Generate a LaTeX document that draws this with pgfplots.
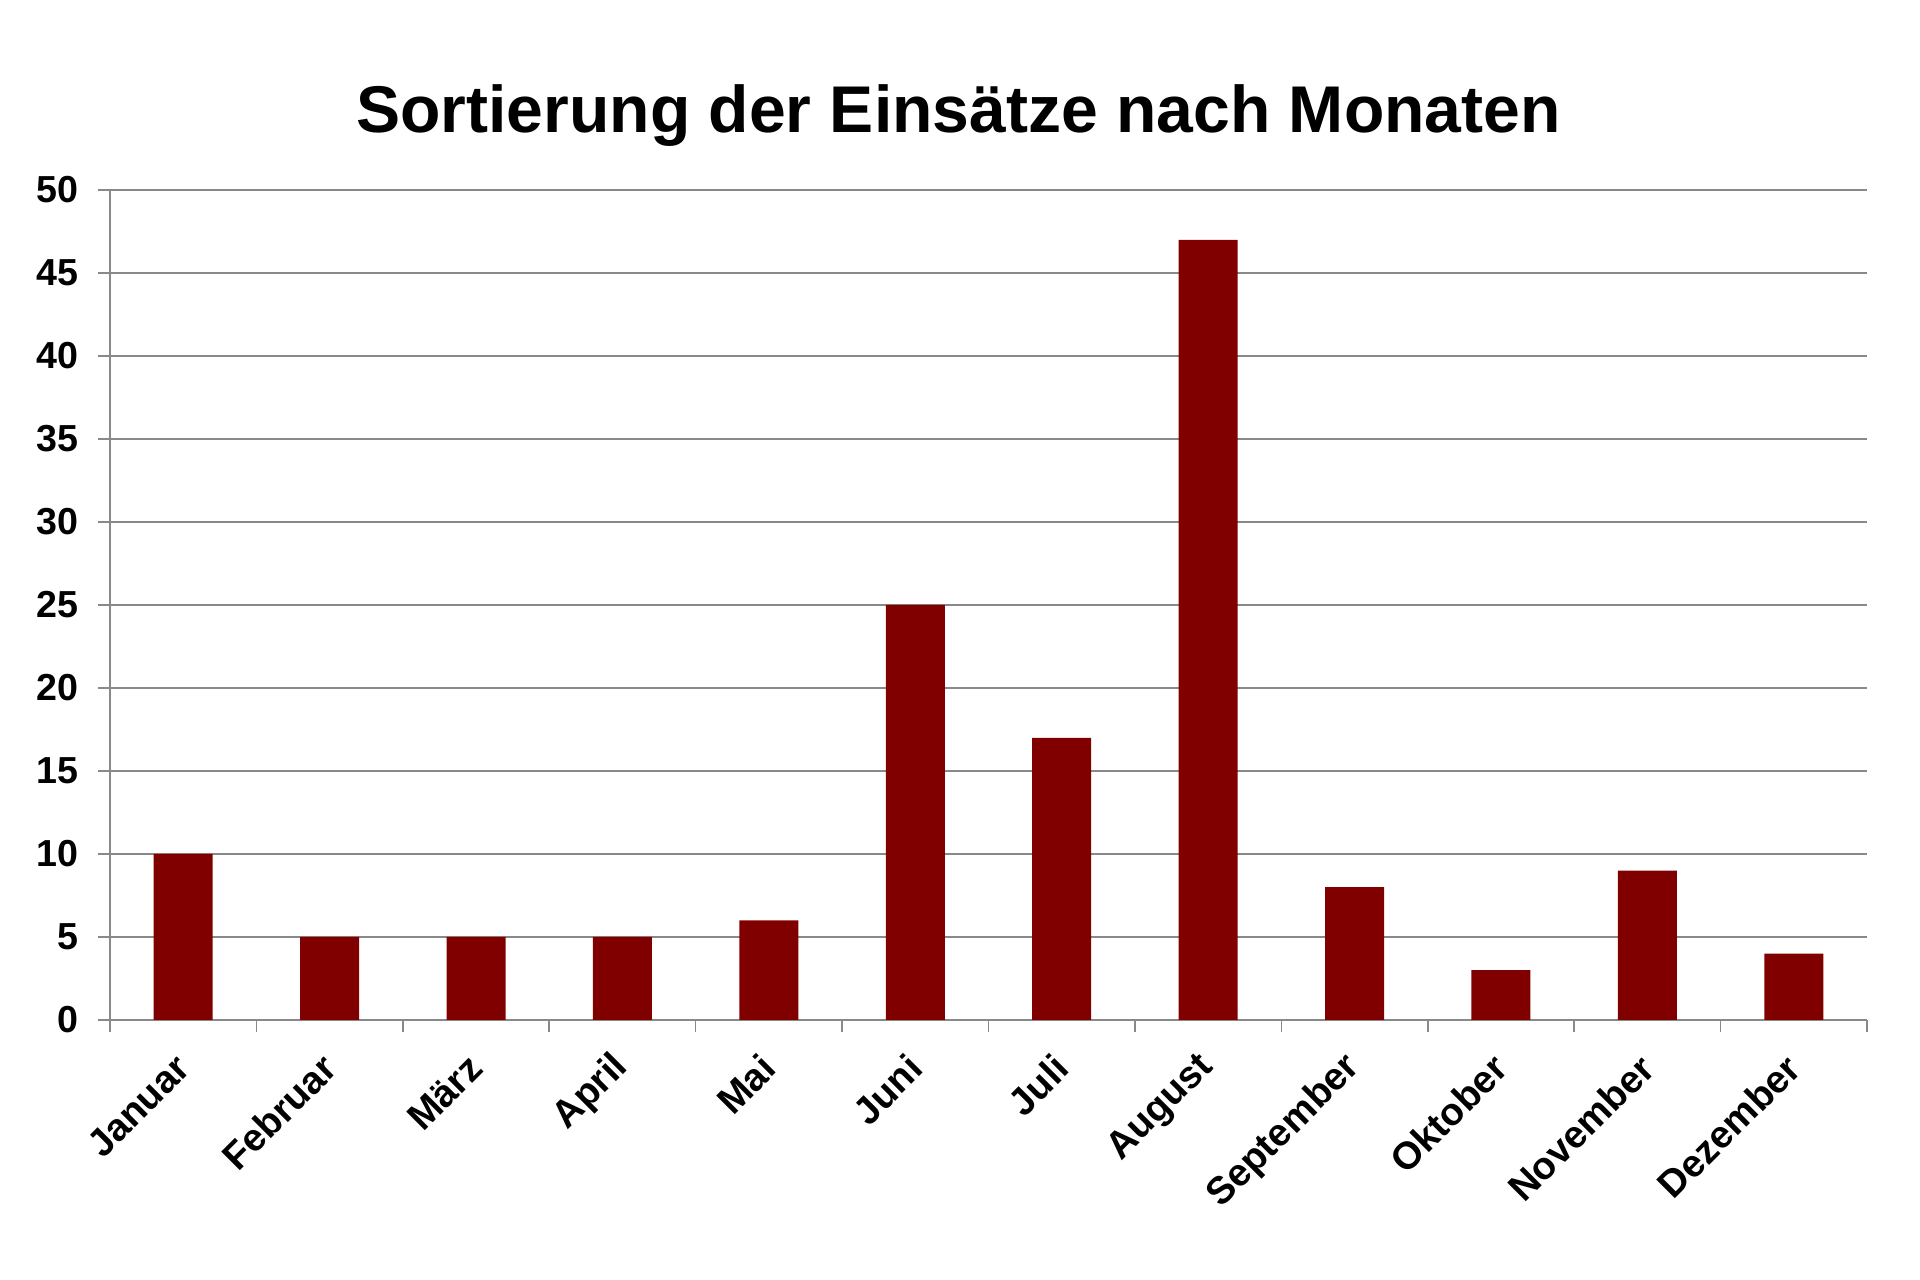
\documentclass[border=0pt]{standalone}
\usepackage{fontspec}
\setmainfont{Liberation Sans}
\usepackage{pgfplots}
\pgfplotsset{compat=1.18}
\definecolor{barred}{HTML}{800000}
\definecolor{gridgray}{HTML}{898989}

\begin{document}
\begin{tikzpicture}
\path[use as bounding box] (0,0) rectangle (192mm,128mm);
\begin{axis}[
  at={(11mm,26mm)}, anchor=south west,
  scale only axis,
  width=175.7mm, height=83mm,
  xmin=0.5, xmax=12.5,
  ymin=0, ymax=50,
  ytick={0,5,...,50},
  xtick={0.5,1.5,...,12.5},
  xticklabels={},
  extra x ticks={1,2,3,4,5,6,7,8,9,10,11,12},
  extra x tick labels={Januar,Februar,März,April,Mai,Juni,Juli,August,September,Oktober,November,Dezember},
  extra x tick style={major tick length=0pt,
    xticklabel style={xshift=0.85mm, yshift=-3.3mm, rotate=45, anchor=east,
      font=\bfseries\fontsize{10.9}{12}\selectfont}},
  axis x line*=bottom, axis y line*=left,
  axis line style={gridgray, line width=0.45pt},
  tick style={gridgray, line width=0.45pt},
  tick align=outside, major tick length=1.2mm,
  ymajorgrids, grid style={gridgray, line width=0.45pt},
  /pgf/number format/assume math mode=true,
  yticklabel style={xshift=-0.7mm, font=\bfseries\fontsize{10.7}{12}\selectfont},
  title={\bfseries Sortierung der Einsätze nach Monaten},
  title style={font=\fontsize{18.8}{22}\selectfont, anchor=center,
    at={(rel axis cs:0.5,1)}, yshift=5.3mm, xshift=-3mm},
  ybar, bar width=5.9mm,
]
\addplot[fill=barred, draw=none] coordinates
  {(1,10)(2,5)(3,5)(4,5)(5,6)(6,25)(7,17)(8,47)(9,8)(10,3)(11,9)(12,4)};
\end{axis}
\end{tikzpicture}
\end{document}
